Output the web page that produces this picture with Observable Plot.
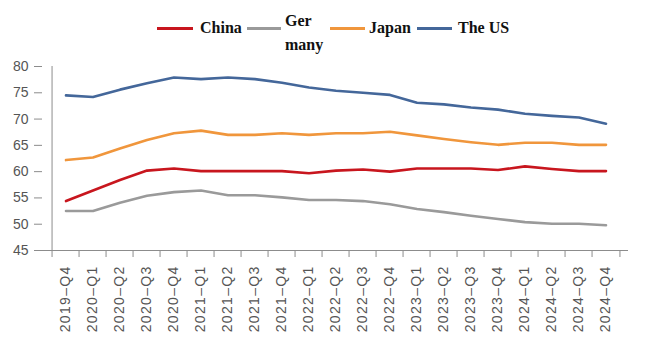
<!DOCTYPE html>
<html><head><meta charset="utf-8">
<script src="https://cdn.jsdelivr.net/npm/d3@7"></script>
<script src="https://cdn.jsdelivr.net/npm/@observablehq/plot@0.6"></script>
<style>
body{margin:0;background:#fff;}
#wrap{position:relative;width:660px;height:359px;overflow:hidden;}
#legend{position:relative;height:56px;font-family:"Liberation Serif","Times New Roman",serif;font-weight:bold;font-size:16px;line-height:16px;color:#111;}
#legend .sw{position:absolute;height:3px;}
#legend .lb{position:absolute;white-space:nowrap;}
svg g[aria-label="x-axis tick label"] text{letter-spacing:1.3px;}
</style>
</head><body>
<div id="wrap">
  <div id="legend">
    <div class="sw" style="left:157px;top:27px;width:36px;background:#C8161E"></div>
    <div class="lb" style="left:200px;top:20px">China</div>
    <div class="sw" style="left:247px;top:27px;width:34px;background:#9a9a9a"></div>
    <div class="lb" style="left:285px;top:13px">Ger</div>
    <div class="lb" style="left:285px;top:37px">many</div>
    <div class="sw" style="left:330px;top:27px;width:35px;background:#F0963C"></div>
    <div class="lb" style="left:369px;top:20px">Japan</div>
    <div class="sw" style="left:417px;top:27px;width:35px;background:#44679A"></div>
    <div class="lb" style="left:458px;top:20px">The US</div>
  </div>
  <div id="chart"></div>
</div>
<script>
const quarters = ["2019–Q4","2020–Q1","2020–Q2","2020–Q3","2020–Q4","2021–Q1","2021–Q2","2021–Q3","2021–Q4","2022–Q1","2022–Q2","2022–Q3","2022–Q4","2023–Q1","2023–Q2","2023–Q3","2023–Q4","2024–Q1","2024–Q2","2024–Q3","2024–Q4"];
const seriesNames = ["China","Germany","Japan","The US"];
const seriesColors = ["#C8161E","#9a9a9a","#F0963C","#44679A"];
const china   = [54.4,56.4,58.4,60.2,60.6,60.1,60.1,60.1,60.1,59.7,60.2,60.4,60.0,60.6,60.6,60.6,60.3,61.0,60.5,60.1,60.1];
const germany = [52.5,52.5,54.1,55.4,56.1,56.4,55.5,55.5,55.1,54.6,54.6,54.4,53.8,52.9,52.3,51.6,51.0,50.4,50.1,50.1,49.8];
const japan   = [62.2,62.7,64.4,66.0,67.3,67.8,67.0,67.0,67.3,67.0,67.3,67.3,67.6,66.9,66.2,65.6,65.1,65.5,65.5,65.1,65.1];
const us      = [74.5,74.2,75.6,76.8,77.9,77.6,77.9,77.6,76.9,76.0,75.4,75.0,74.6,73.1,72.8,72.2,71.8,71.0,70.6,70.3,69.1];
const yTicks  = [45,50,55,60,65,70,75,80];

const seriesValues = [china, germany, japan, us];
const data = [];
seriesNames.forEach((s, k) => seriesValues[k].forEach((v, i) => data.push({s, q: quarters[i], v})));

const W = 660, H = 303, mT = 10, mB = 109, mL = 42, mR = 32;
const step = (W - mL - mR) / quarters.length;
const frameH = H - mT - mB;
const axisColor = "#8c8c8c";

const plot = Plot.plot({
  width: W, height: H, marginTop: mT, marginBottom: mB, marginLeft: mL, marginRight: mR,
  style: {fontFamily: "'Liberation Sans', Arial, sans-serif", fontSize: "14px", color: "#555", background: "#fff", overflow: "visible"},
  x: {type: "band", domain: quarters, padding: 0, label: null},
  y: {domain: [45, 80], label: null},
  color: {domain: seriesNames, range: seriesColors},
  marks: [
    Plot.axisY({ticks: yTicks, tickSize: 8, tickPadding: 6, stroke: axisColor, fill: "#555", label: null, fontSize: 14}),
    Plot.axisX({tickSize: 0, tickPadding: 15, tickRotate: -90, label: null, fontSize: 14, fill: "#555"}),
    Plot.ruleY([45], {stroke: axisColor}),
    Plot.ruleX([quarters[0]], {dx: -step / 2, stroke: axisColor, insetBottom: -7}),
    Plot.ruleX(quarters.slice(1), {dx: -step / 2, stroke: axisColor, insetTop: frameH, insetBottom: -7}),
    Plot.ruleX([quarters[quarters.length - 1]], {dx: step / 2, stroke: axisColor, insetTop: frameH, insetBottom: -7}),
    Plot.lineY(data, {x: "q", y: "v", z: "s", stroke: "s", strokeWidth: 2.6, strokeLinejoin: "round"})
  ]
});
document.getElementById("chart").appendChild(plot);
</script>
</body></html>
